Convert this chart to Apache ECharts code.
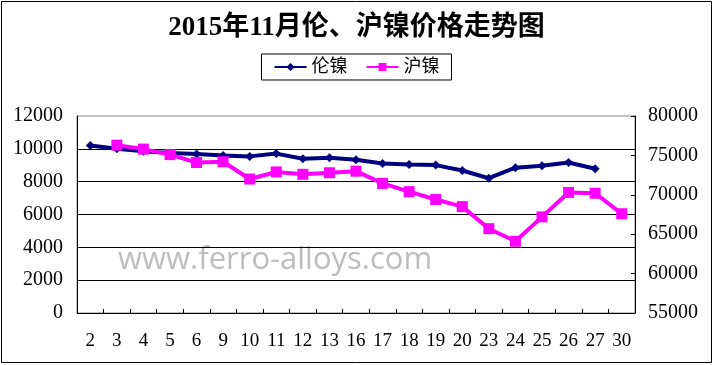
<!DOCTYPE html>
<html><head><meta charset="utf-8">
<script src="https://cdn.jsdelivr.net/npm/echarts@6/dist/echarts.min.js"></script>
<style>html,body{margin:0;padding:0;background:#fff}#c{width:713px;height:365px}</style>
</head><body><div id="c"></div>
<script>
var categories = ['2','3','4','5','6','9','10','11','12','13','16','17','18','19','20','23','24','25','26','27','30'];
var lmeNickel = [10200,10000,9850,9750,9690,9600,9540,9710,9400,9450,9340,9110,9050,9010,8680,8210,8850,8970,9170,8790,null];
var shNickel = [null,76300,75800,75100,74100,74200,72000,72900,72600,72800,73000,71450,70400,69400,68500,65700,64100,67200,70300,70200,67600];
var leftTicks = {min:0, max:12000, interval:2000};
var rightTicks = {min:55000, max:80000, interval:5000};
var titleText = '2015年11月伦、沪镍价格走势图';
var seriesNames = ['伦镍','沪镍'];
var watermark = 'www.ferro-alloys.com';

var chart = echarts.init(document.getElementById('c'));
var serif = '"Liberation Serif", "Noto Sans CJK SC", serif';
var plain = function(v){ return String(v); };
chart.setOption({
  animation:false,
  backgroundColor:'#fff',
  title:{text:titleText,left:'center',top:10,textStyle:{fontFamily:serif,fontSize:27,fontWeight:'bold',color:'#000'}},
  legend:{data:seriesNames,top:54,left:'center',borderColor:'#000',borderWidth:1,padding:[4,12,4,12],itemGap:18,itemWidth:32,itemHeight:10,
    textStyle:{fontFamily:serif,fontSize:18,color:'#000'}},
  grid:{left:77,right:78,top:116,bottom:52,show:true,borderColor:'#888',borderWidth:1},
  xAxis:{type:'category',data:categories,boundaryGap:true,
    axisLine:{lineStyle:{color:'#000',width:1}},
    axisTick:{show:true,inside:true,length:4,lineStyle:{color:'#000'}},
    axisLabel:{margin:19,fontFamily:serif,fontSize:19,color:'#000',interval:0}},
  yAxis:[
    {type:'value',min:leftTicks.min,max:leftTicks.max,interval:leftTicks.interval,
     axisLine:{show:true,lineStyle:{color:'#000'}},axisTick:{show:false},
     splitLine:{show:true,showMaxLine:false,lineStyle:{color:'#000',width:1}},
     axisLabel:{margin:14,fontFamily:serif,fontSize:20,color:'#000',formatter:plain}},
    {type:'value',min:rightTicks.min,max:rightTicks.max,interval:rightTicks.interval,position:'right',
     axisLine:{show:true,lineStyle:{color:'#000'}},axisTick:{show:true,inside:true,length:4,lineStyle:{color:'#000'}},
     splitLine:{show:false},
     axisLabel:{margin:13,fontFamily:serif,fontSize:20,color:'#000',formatter:plain}}
  ],
  series:[
    {name:seriesNames[0],type:'line',yAxisIndex:0,data:lmeNickel,color:'#000080',
     lineStyle:{width:4,color:'#000080'},symbol:'diamond',symbolSize:9,itemStyle:{color:'#000080'},connectNulls:false},
    {name:seriesNames[1],type:'line',yAxisIndex:1,data:shNickel,color:'#ff00ff',
     lineStyle:{width:4,color:'#ff00ff'},symbol:'rect',symbolSize:11,itemStyle:{color:'#ff00ff'},connectNulls:false}
  ],
  graphic:[
    {type:'text',left:118,top:245,z:0,style:{text:watermark,font:'31px "Open Sans", sans-serif',fill:'#bdbdbd'}},
    {type:'rect',shape:{x:1.5,y:1.5,width:710,height:361},style:{fill:'none',stroke:'#000',lineWidth:1},z:100}
  ]
});
</script></body></html>
